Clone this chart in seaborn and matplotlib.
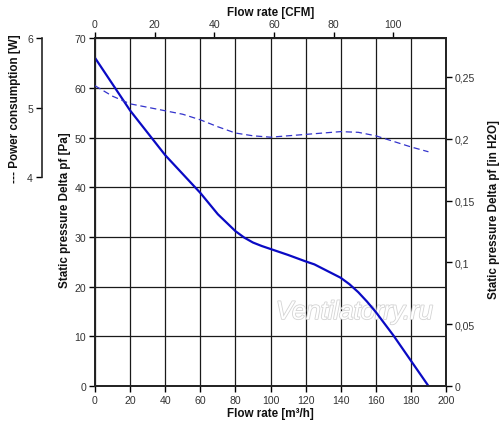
import matplotlib
import pandas as pd
import seaborn as sns
import matplotlib.patheffects as pe

matplotlib.use("Agg")
import matplotlib.pyplot as plt

# Flow rate in m3/h, static pressure in Pa
flow_pa = [0, 10, 20, 30, 40, 50, 60, 70, 80, 85, 90, 95, 100, 110, 120, 125, 130, 140, 145, 150,
           155, 160, 170, 180, 190]
pressure_pa = [66.1, 60.8, 55.5, 51.0, 46.5, 42.7, 38.9, 34.6, 31.2, 29.9, 28.9, 28.2, 27.6, 26.4,
               25.1, 24.5, 23.6, 21.8, 20.5, 18.9, 17.0, 14.9, 10.2, 5.1, 0.0]

# Power consumption in W
flow_w = [0, 10, 20, 40, 50, 60, 70, 80, 90, 100, 120, 140, 150, 160, 170, 180, 190]
power_w = [5.32, 5.17, 5.06, 4.96, 4.91, 4.83, 4.73, 4.64, 4.60, 4.58, 4.62, 4.66, 4.65, 4.60, 4.52,
           4.44, 4.37]

x_ticks = list(range(0, 201, 20))
y_ticks = list(range(0, 71, 10))
cfm_ticks = list(range(0, 101, 20))
inh2o_ticks = [0, 0.05, 0.1, 0.15, 0.2, 0.25]
inh2o_labels = ["0", "0,05", "0,1", "0,15", "0,2", "0,25"]
power_ticks = [4, 5, 6]

M3H_PER_CFM = 1.699
PA_PER_INH2O = 249.09

sns.set_theme(style="ticks")
plt.rcParams["font.family"] = ["Liberation Sans", "DejaVu Sans"]
plt.rcParams["axes.linewidth"] = 1.2

fig = plt.figure(figsize=(5.0, 4.27), dpi=100)
ax = fig.add_axes([0.19, 0.0937, 0.702, 0.8138])

df_p = pd.DataFrame({"flow": flow_pa, "pressure": pressure_pa})
df_w = pd.DataFrame({"flow": flow_w, "power": power_w})

tick_kw = dict(labelsize=7.6, labelcolor="#333333", length=4, width=1, color="black",
               direction="out", pad=2.5)
lab_kw = dict(fontsize=8.4, fontweight="bold", color="#111111")

ax.set_xlim(0, 200)
ax.set_ylim(0, 70)
ax.set_xticks(x_ticks)
ax.set_yticks(y_ticks)
ax.grid(True, color="#1a1a1a", linewidth=0.9)
ax.tick_params(**tick_kw)
for s in ax.spines.values():
    s.set_color("black")

sns.lineplot(data=df_p, x="flow", y="pressure", ax=ax, color="#0a0ac4", linewidth=1.6, zorder=5)
ax.set_xlabel("Flow rate [m³/h]", **lab_kw)
ax.set_ylabel("Static pressure Delta pf [Pa]", **lab_kw)
ax.xaxis.set_label_coords(0.5, -0.06)
ax.yaxis.set_label_coords(-0.068, 0.51)

# top axis in CFM
top = ax.secondary_xaxis("top", functions=(lambda m: m / M3H_PER_CFM, lambda c: c * M3H_PER_CFM))
top.set_xticks(cfm_ticks)
top.tick_params(**tick_kw)
top.set_xlabel("Flow rate [CFM]", labelpad=3, **lab_kw)

# right axis in inch of water
right = ax.twinx()
right.set_ylim(0, 70 / PA_PER_INH2O)
right.set_yticks(inh2o_ticks)
right.set_yticklabels(inh2o_labels)
right.tick_params(**tick_kw)
right.grid(False)
right.set_ylabel("Static pressure Delta pf [in H2O]", **lab_kw)
right.yaxis.set_label_coords(1.12, 0.51)

# power axis, detached on the left
pw = ax.twinx()
pw.set_ylim(1, 6)
pw.grid(False)
sns.lineplot(data=df_w, x="flow", y="power", ax=pw, color="#3333cc", linewidth=0.9,
             linestyle=(0, (5, 3)), zorder=5)
pw.spines["right"].set_visible(False)
pw.spines["top"].set_visible(False)
pw.spines["bottom"].set_visible(False)
pw.spines["left"].set_visible(True)
pw.spines["left"].set_position(("axes", -0.151))
pw.spines["left"].set_bounds(4, 6)
pw.yaxis.set_ticks_position("left")
pw.yaxis.set_label_position("left")
pw.set_yticks(power_ticks)
pw.tick_params(**tick_kw)
pw.set_xlabel("")
pw.set_ylabel("--- Power consumption [W]", **lab_kw)
pw.yaxis.set_label_coords(-0.212, 0.80)

wm = ax.text(0.74, 0.213, "Ventilatorry.ru", transform=ax.transAxes, fontsize=18.5, style="italic",
             color="white", ha="center", va="center", zorder=4)
wm.set_path_effects([pe.withStroke(linewidth=1.2, foreground="#d4d4d4")])

fig.savefig("out.png", dpi=100)
